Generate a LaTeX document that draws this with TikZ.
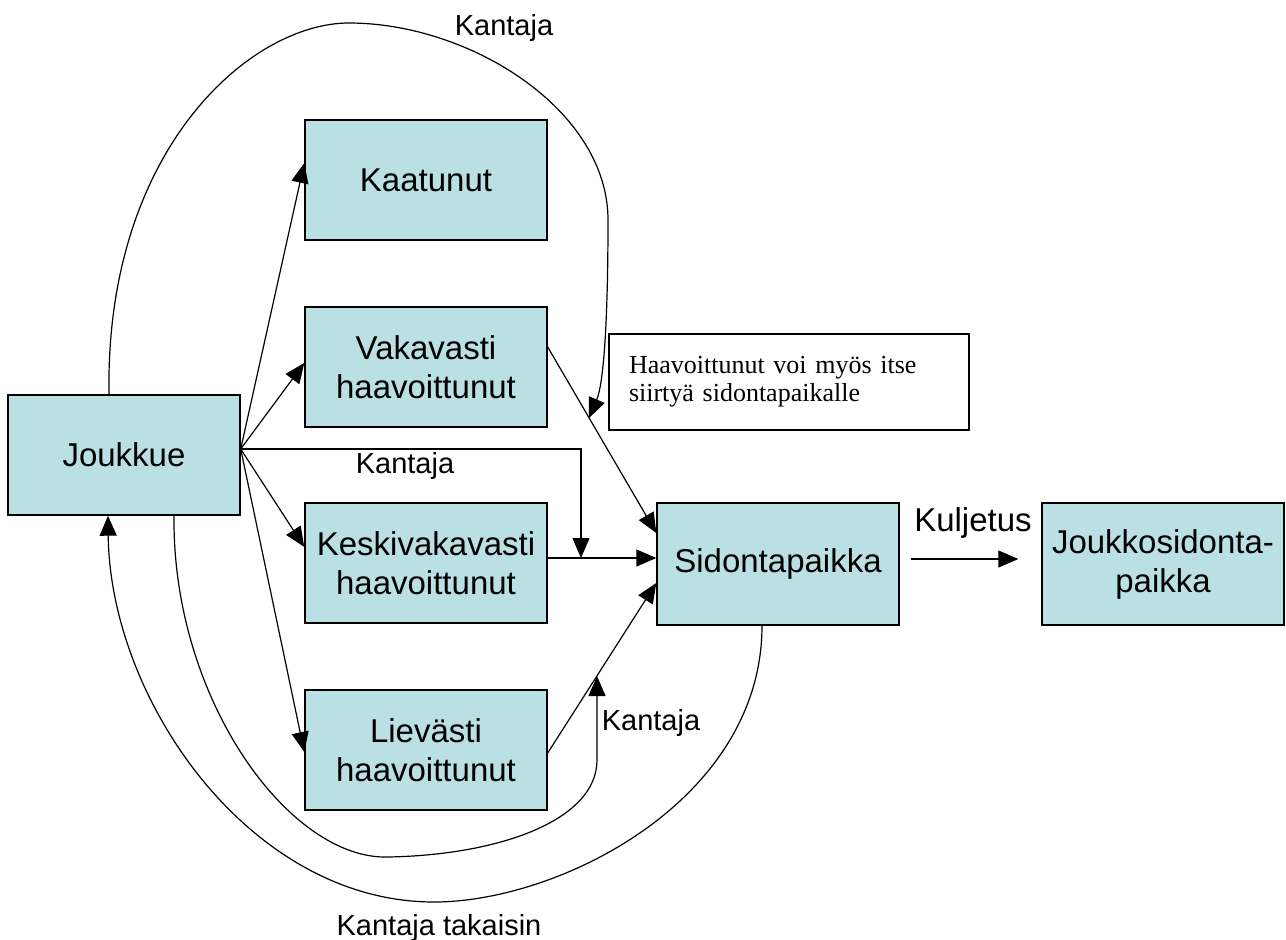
\documentclass[tikz,border=0pt]{standalone}
\usepackage{fontspec}
\setmainfont{Liberation Sans}
\newfontfamily\notefont{Liberation Serif}
\usetikzlibrary{arrows.meta,calc}
\definecolor{boxfill}{RGB}{186,224,227}
\begin{document}
\begin{tikzpicture}[x=1pt,y=-1pt,
  box/.style={draw=black, line width=1.4pt, fill=boxfill, minimum width=242pt, minimum height=120pt, inner sep=0pt, align=center, font=\fontsize{33}{39}\selectfont},
  conn/.style={line width=1.2pt, -{Triangle[length=20pt,width=17pt]}},
  lbl/.style={font=\fontsize{29}{34}\selectfont, anchor=base, inner sep=0pt},
  notebox/.style={draw=black, line width=1.4pt, fill=white, minimum width=360pt, minimum height=96pt, inner xsep=20pt, text width=320pt, align=left, font=\notefont\fontsize{26}{28}\selectfont}
]
\useasboundingbox (0,0) rectangle (1286,940);

\node[box, minimum width=232pt] (J) at (124,455) {Joukkue};
\node[box] (Ka) at (426,180) {Kaatunut};
\node[box] (V) at (426,367) {Vakavasti\\haavoittunut};
\node[box] (K) at (426,563) {Keskivakavasti\\haavoittunut};
\node[box] (L) at (426,750) {Lievästi\\haavoittunut};
\node[box, minimum height=122pt] (S) at (778,564) {Sidontapaikka};
\node[box, minimum height=122pt] (JS) at (1163,564) {Joukkosidonta-\\paikka};
\node[notebox] (N) at (789,382) {Haavoittunut voi myös itse\\siirtyä sidontapaikalle};

\coordinate (jf) at ($(J.east)+(0,-6)$);
\coordinate (kmid) at (581,558);
\coordinate (vt) at (589,418);
\coordinate (lt) at (597,676);

% fan from Joukkue
\draw[conn] (jf) -- ($(Ka.west)+(0,-17)$);
\draw[conn] (jf) -- ($(V.west)+(0,-4)$);
\draw[conn] (jf) -- ($(K.west)+(0,-16)$);
\draw[conn] (jf) -- ($(L.west)+(0,2)$);

% into Sidontapaikka
\draw[conn] ($(V.east)+(0,-20)$) -- ($(S.west)+(0,-31)$);
\draw[conn] ($(K.east)+(0,-5)$) -- ($(S.west)+(0,-6)$);
\draw[conn] ($(L.east)+(0,3)$) -- ($(S.west)+(0,19)$);

% Kuljetus
\draw[conn] ($(S.east)+(11,-5)$) -- ($(JS.west)+(-23,-5)$);
\node[lbl, font=\fontsize{33}{39}\selectfont] (kulj) at (973,531) {Kuljetus};

% middle Kantaja
\draw[conn] (jf) -| (kmid);
\node[lbl] (k2) at (405,473) {Kantaja};

% top Kantaja curve
\draw[conn] ($(J.north)+(-15,0)$) .. controls (105,150) and (250,23) .. (349,23)
  .. controls (470,23) and (608,110) .. (608,220)
  .. controls (608,330) and (603,385) .. (vt);
\node[lbl] (k1) at (504,35) {Kantaja};

% bottom Kantaja curve
\draw[conn] ($(J.south)+(50,0)$) .. controls (172,700) and (290,860) .. (388,857)
  .. controls (500,855) and (597,820) .. (597,760) -- (lt);
\node[lbl] (k3) at (651,730) {Kantaja};

% Kantaja takaisin
\draw[conn] ($(S.south)+(-16,0)$) .. controls (762,800) and (560,902) .. (434,902)
  .. controls (250,902) and (110,700) .. ($(J.south)+(-16,0)$);
\node[lbl] (k4) at (439,935) {Kantaja takaisin};
\end{tikzpicture}
\end{document}
